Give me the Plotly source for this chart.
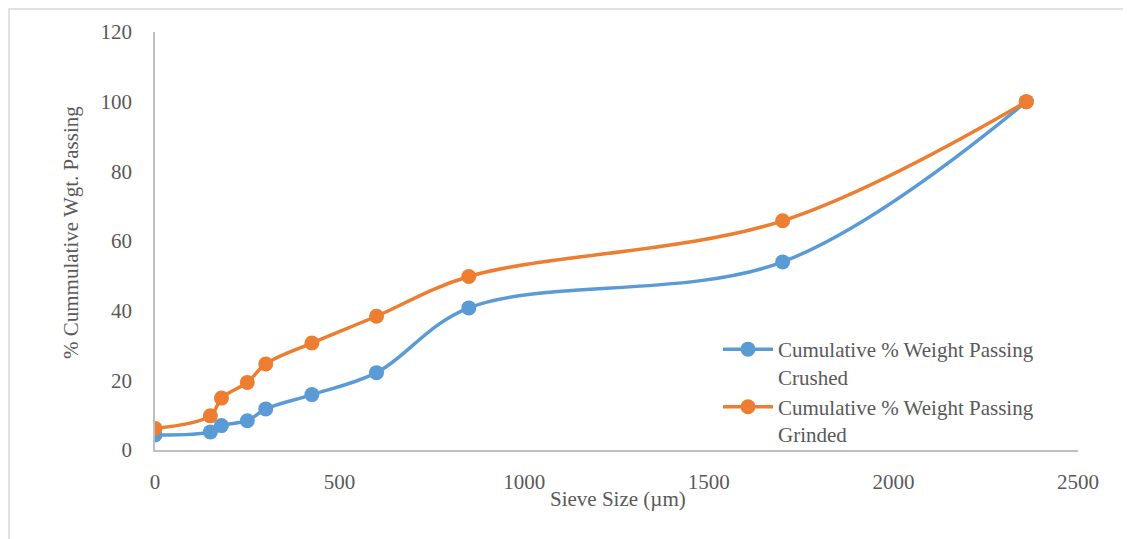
import plotly.graph_objects as go

sieve_size = [0, 150, 180, 250, 300, 425, 600, 850, 1700, 2360]
crushed = [4.3, 5.2, 7.0, 8.4, 11.8, 15.9, 22.2, 40.8, 54.0, 100.0]
grinded = [6.2, 9.8, 14.9, 19.4, 24.7, 30.7, 38.4, 49.8, 65.8, 100.0]

names = ["Cumulative % Weight Passing<br>Crushed", "Cumulative % Weight Passing<br>Grinded"]
colors = ["#5B9BD5", "#ED7D31"]

x_ticks = [0, 500, 1000, 1500, 2000, 2500]
y_ticks = [0, 20, 40, 60, 80, 100, 120]

fig = go.Figure()
for name, vals, col in zip(names, [crushed, grinded], colors):
    fig.add_trace(go.Scatter(
        x=sieve_size, y=vals, name=name, mode="lines+markers",
        line=dict(color=col, width=3.5, shape="spline", smoothing=1.0),
        marker=dict(color=col, size=15),
    ))

font_family = "Liberation Serif"
grey = "#595959"
fs = 21
PW, PH = 923, 418  # plot area size in px
L, T = 147, 24

fig.update_layout(
    width=1123, height=531,
    margin=dict(l=L, r=53, t=T, b=89),
    paper_bgcolor="white", plot_bgcolor="white",
    font=dict(family=font_family, color=grey, size=fs),
    showlegend=True,
    legend=dict(x=(718 - 155) / PW, y=(450 - 329) / PH, xanchor="left", yanchor="top",
                bgcolor="rgba(0,0,0,0)", font=dict(size=fs, color=grey),
                tracegroupgap=0, itemwidth=50, valign="top"),
    xaxis=dict(range=[0, 2500], tickvals=x_ticks, showgrid=False, zeroline=False,
               showline=True, linecolor="#BFBFBF", linewidth=1.5,
               ticks="", ticklabelstandoff=12, automargin=False),
    yaxis=dict(range=[0, 120], tickvals=y_ticks, showgrid=False, zeroline=False,
               showline=True, linecolor="#BFBFBF", linewidth=1.5,
               ticks="", ticklabelstandoff=17, automargin=False),
    annotations=[
        dict(text="Sieve Size (µm)", xref="paper", yref="paper",
             x=(618 - 155) / PW, y=(450 - 499) / PH, xanchor="center", yanchor="middle",
             showarrow=False, font=dict(size=fs, color=grey)),
        dict(text="% Cummulative Wgt. Passing", xref="paper", yref="paper",
             x=(71 - 155) / PW, y=(450 - 233) / PH, xanchor="center", yanchor="middle",
             textangle=-90, showarrow=False, font=dict(size=fs, color=grey)),
    ],
)

# outer chart border (left and top visible)
fig.add_shape(type="rect", xref="paper", yref="paper",
              x0=(9 - 155) / PW, x1=(1145 - 155) / PW,
              y0=(450 - 560) / PH, y1=(450 - 9) / PH,
              line=dict(color="#D9D9D9", width=1.5), fillcolor="rgba(0,0,0,0)", layer="below")

fig.write_html("out.html")
